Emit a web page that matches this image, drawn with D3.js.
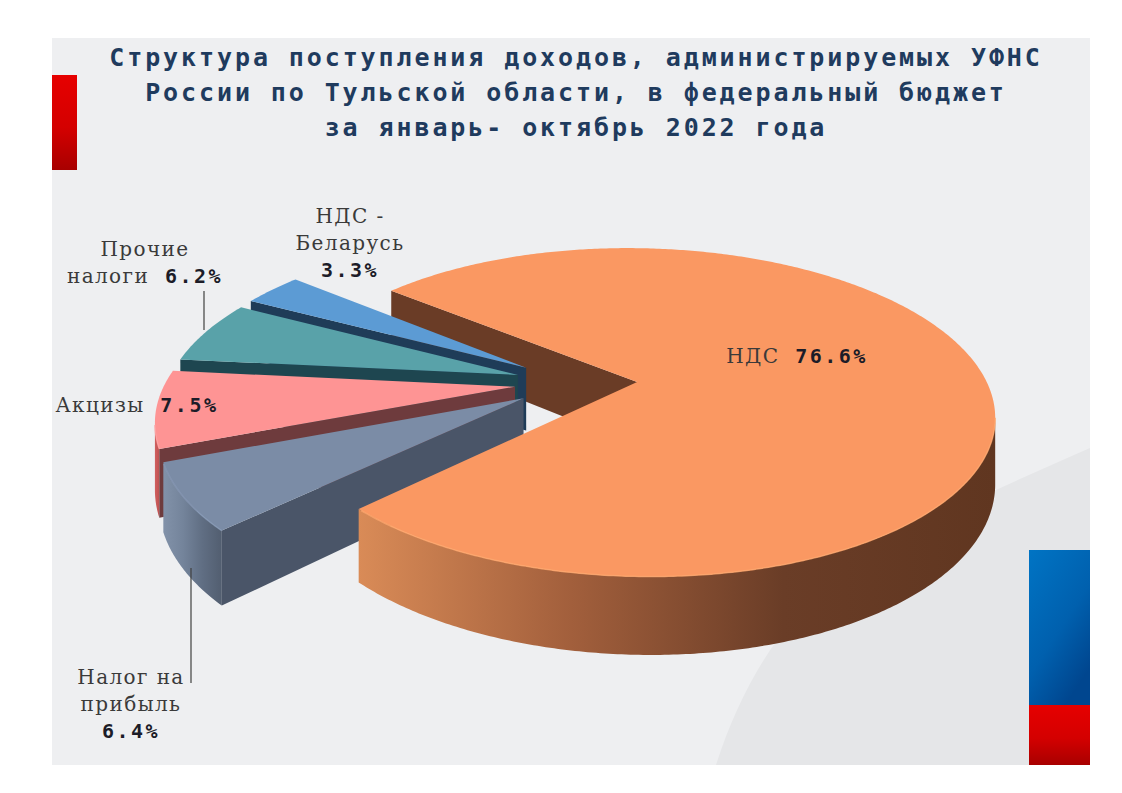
<!DOCTYPE html>
<html><head><meta charset="utf-8">
<script src="https://cdn.jsdelivr.net/npm/d3@7"></script>
<style>html,body{margin:0;padding:0;background:#fff;}svg{display:block;}</style>
</head><body>
<svg id="c" width="1122" height="793"></svg>
<script>
// ---- data ----
const titleLines = [
  "Структура поступления доходов, администрируемых УФНС",
  "России по Тульской области, в федеральный бюджет",
  "за январь- октябрь 2022 года"
];
const categories = ["НДС", "Налог на прибыль", "Акцизы", "Прочие налоги", "НДС - Беларусь"];
const values = [76.6, 6.4, 7.5, 6.2, 3.3];
const labelLines = [
  ["НДС {p}"],
  ["Налог на", "прибыль", "{p}"],
  ["Акцизы {p}"],
  ["Прочие", "налоги {p}"],
  ["НДС -", "Беларусь", "{p}"]
];

// ---- styles ----
const topColors  = ["#fa9862", "#7b8ca6", "#fe9494", "#59a2a9", "#5c9bd4"];
const cutColors  = ["#6a3c26", "#4a5568", "#6e3b3d", "#1e4650", "#1f3c58"];
const wallColors = [["#d98b57", "#a25f3c", "#6a3d27", "#603620"], ["#8292a9", "#74849b", "#606e83", "#525e70"],
                    ["#d0605f", "#b84b4c", "#a03f40", "#8a3536"], ["#4a9097", "#3d7f86", "#336c72", "#2a5a60"],
                    ["#4b86bb", "#3d6f9c", "#335f87", "#2a5070"]];
// label layout (first baseline, px)
const labelAnchors = [[797, 363], [131, 684], [137, 412], [145, 256], [350, 223]];
const leaders = [[204, 291, 330], [191, 568, 683]];

// ---- 3D projection parameters ----
const P = {cx: 576, cy: 383, W: 350, A: 159, k: 0.185, T: 64};
const startDeg = 310, explode = 0.175;

const svg = d3.select("#c");
const defs = svg.append("defs");

// background
svg.append("rect").attr("x", 52).attr("y", 38).attr("width", 1038).attr("height", 727).attr("fill", "#eeeff1");
svg.append("path").attr("d", "M1090,448 C1000,488 900,530 840,575 C780,620 740,690 716,765 L1090,765 Z").attr("fill", "#e5e6e8");

const gRed = defs.append("linearGradient").attr("id", "gRed").attr("x1", 0).attr("y1", 0).attr("x2", 0).attr("y2", 1);
gRed.append("stop").attr("offset", 0).attr("stop-color", "#e60000");
gRed.append("stop").attr("offset", 0.55).attr("stop-color", "#d40000");
gRed.append("stop").attr("offset", 1).attr("stop-color", "#a80000");
const gBlue = defs.append("linearGradient").attr("id", "gBlue").attr("x1", 0).attr("y1", 0).attr("x2", 0.6).attr("y2", 1);
gBlue.append("stop").attr("offset", 0).attr("stop-color", "#0074c4");
gBlue.append("stop").attr("offset", 0.6).attr("stop-color", "#0060ae");
gBlue.append("stop").attr("offset", 1).attr("stop-color", "#00468f");

svg.append("rect").attr("x", 52).attr("y", 75).attr("width", 25).attr("height", 95).attr("fill", "url(#gRed)");
svg.append("rect").attr("x", 1029).attr("y", 550).attr("width", 61).attr("height", 155).attr("fill", "url(#gBlue)");
svg.append("rect").attr("x", 1029).attr("y", 705).attr("width", 61).attr("height", 60).attr("fill", "url(#gRed)");

// title
const title = svg.append("text").attr("text-anchor", "middle")
  .attr("font-family", "'DejaVu Sans Mono', monospace")
  .attr("font-weight", "bold").attr("font-size", 25).attr("letter-spacing", 2.9).attr("fill", "#1f3b5e");
titleLines.forEach((t, i) => title.append("tspan").attr("x", 576).attr("y", 66 + i * 35).text(t));

// ---- pie geometry ----
const pie = d3.pie().sort(null).value(d => d)
  .startAngle(startDeg * Math.PI / 180).endAngle(startDeg * Math.PI / 180 + 2 * Math.PI);
const arcs = pie(values);

function proj(u, v, h) {
  const s = 1 / (1 - P.k * v);
  return [P.cx + P.W * u * s, P.cy + (P.A * v + P.T * h) * s];
}
function area(pts) {
  let a = 0;
  for (let i = 0; i < pts.length; i++) { const p = pts[i], q = pts[(i + 1) % pts.length]; a += p[0] * q[1] - q[0] * p[1]; }
  return a / 2;
}
const line = d3.line().curve(d3.curveLinear);
const closed = pts => line(pts) + "Z";

const slices = arcs.map((a, i) => {
  const mid = (a.startAngle + a.endAngle) / 2;
  const ox = explode * Math.sin(mid), oy = -explode * Math.cos(mid);
  const n = Math.max(8, Math.round((a.endAngle - a.startAngle) / 0.01));
  const angs = d3.range(n + 1).map(j => a.startAngle + (a.endAngle - a.startAngle) * j / n);
  const rim = h => angs.map(t => proj(ox + Math.sin(t), oy - Math.cos(t), h));
  return {i, a, mid, c0: proj(ox, oy, 0), c1: proj(ox, oy, 1), top: rim(0), bot: rim(1)};
});

// wall gradients
slices.forEach(s => {
  const xs = s.top.map(p => p[0]);
  const g = defs.append("linearGradient").attr("id", "wall" + s.i).attr("gradientUnits", "userSpaceOnUse")
    .attr("x1", d3.min(xs)).attr("y1", 0).attr("x2", d3.max(xs)).attr("y2", 0);
  const cs = wallColors[s.i];
  cs.forEach((c, j) => g.append("stop").attr("offset", j / (cs.length - 1)).attr("stop-color", c));
});

const layer = svg.append("g");
function drawCuts(s) {
  const st = [s.c0, s.top[0], s.bot[0], s.c1];
  const en = [s.c0, s.top[s.top.length - 1], s.bot[s.bot.length - 1], s.c1];
  if (area(st) < 0) layer.append("path").attr("d", closed(st)).attr("fill", cutColors[s.i]);
  if (area(en) > 0) layer.append("path").attr("d", closed(en)).attr("fill", cutColors[s.i]);
}
function drawWall(s) {
  let run = [];
  const flush = () => {
    if (run.length > 1) {
      const pts = run.map(j => s.top[j]).concat(run.slice().reverse().map(j => s.bot[j]));
      layer.append("path").attr("d", closed(pts)).attr("fill", "url(#wall" + s.i + ")");
    }
    run = [];
  };
  for (let j = 0; j < s.top.length - 1; j++) {
    const q = [s.top[j], s.top[j + 1], s.bot[j + 1], s.bot[j]];
    if (area(q) < 0) { if (!run.length) run.push(j); run.push(j + 1); } else flush();
  }
  flush();
}
function drawTop(s) {
  layer.append("path").attr("d", closed([s.c0].concat(s.top))).attr("fill", topColors[s.i]);
  const front = s.top.filter((p, j) => j < s.top.length - 1 && area([s.top[j], s.top[j + 1], s.bot[j + 1], s.bot[j]]) < 0);
  if (front.length > 1) layer.append("path").attr("d", line(front)).attr("fill", "none")
    .attr("stroke", d3.color(topColors[s.i]).brighter(0.25)).attr("stroke-width", 1.5).attr("opacity", 0.8);
}

const big = slices.filter(s => s.a.endAngle - s.a.startAngle > Math.PI);
const small = slices.filter(s => s.a.endAngle - s.a.startAngle <= Math.PI)
  .sort((p, q) => (-Math.cos(p.mid)) - (-Math.cos(q.mid)));
big.forEach(drawCuts);
small.forEach(s => { drawWall(s); drawCuts(s); drawTop(s); });
big.forEach(s => { drawWall(s); drawTop(s); });

// ---- labels ----
leaders.forEach(l => svg.append("line").attr("x1", l[0]).attr("x2", l[0]).attr("y1", l[1]).attr("y2", l[2])
  .attr("stroke", "#404040").attr("stroke-width", 1.2));

const fmt = v => v.toFixed(1) + "%";
labelLines.forEach((ls, i) => {
  const t = svg.append("text").attr("text-anchor", "middle");
  ls.forEach((ln, j) => {
    const row = t.append("tspan").attr("x", labelAnchors[i][0]).attr("y", labelAnchors[i][1] + j * 27);
    const parts = ln.split("{p}");
    if (parts[0].length) row.append("tspan").attr("font-family", "'DejaVu Serif', serif")
      .attr("font-size", 20).attr("letter-spacing", 1.4).attr("fill", "#3a3a3a").text(parts[0]);
    if (parts.length > 1) row.append("tspan").attr("font-family", "'DejaVu Sans Mono', monospace").attr("font-weight", "bold")
      .attr("dx", parts[0].length ? 8 : 0)
      .attr("font-size", 20).attr("letter-spacing", 2.5).attr("fill", "#1c1c28").text(fmt(values[i]));
  });
});
</script>
</body></html>
